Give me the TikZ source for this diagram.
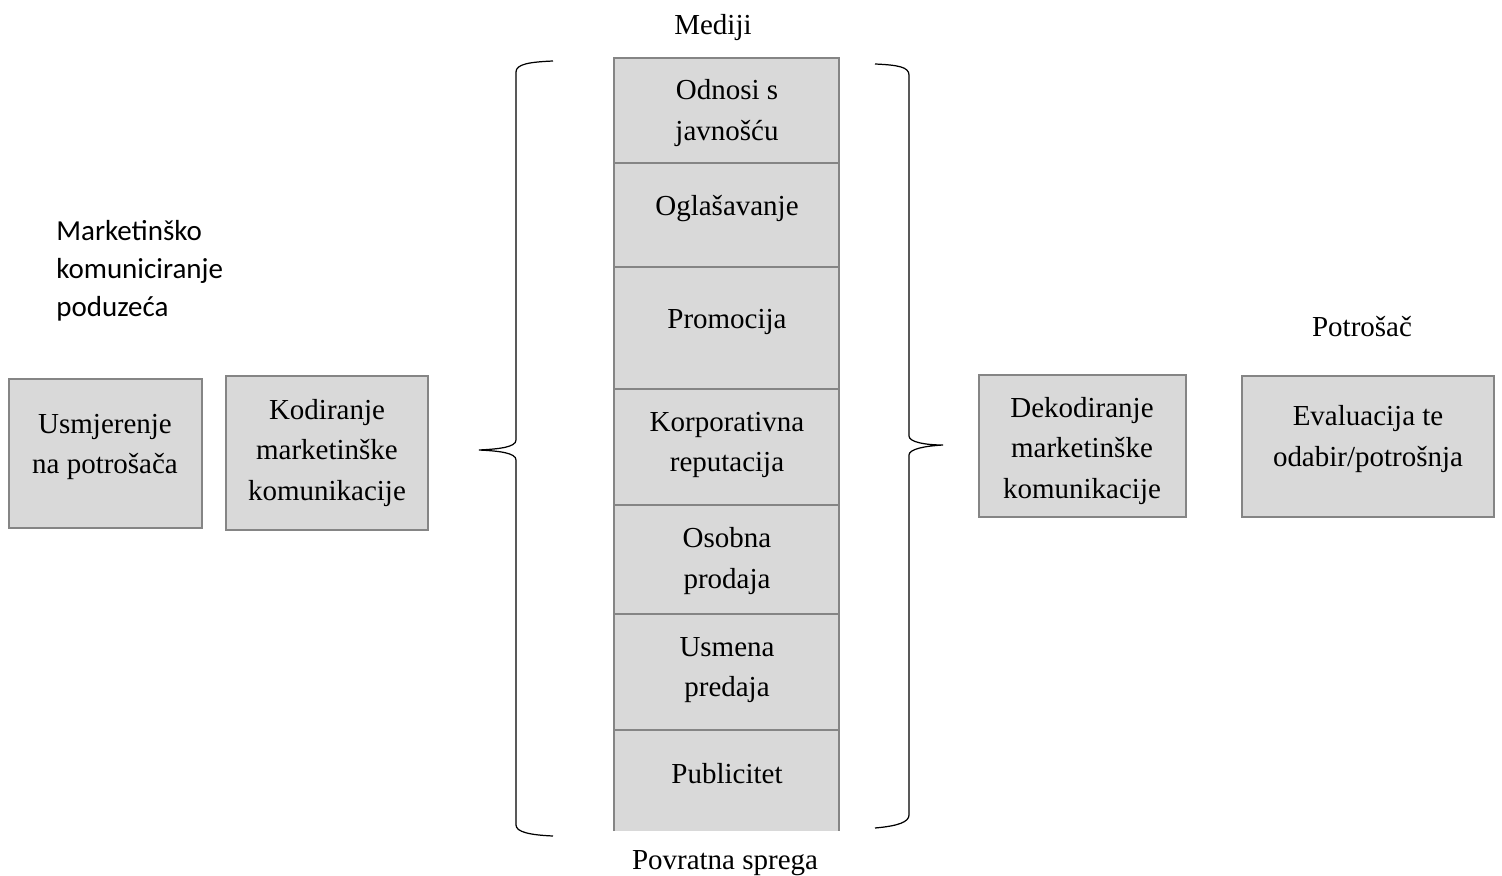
\documentclass[tikz,border=0pt]{standalone}
\usepackage{fontspec}
\setmainfont{Liberation Serif}
\newfontfamily\calfont{Carlito}
\definecolor{boxgray}{HTML}{D9D9D9}
\definecolor{boxline}{HTML}{858585}
\tikzset{
  cell/.style={fill=boxgray, draw=boxline, line width=1.3pt},
  sep/.style={draw=boxline, line width=1.3pt},
  brace/.style={draw=black, line width=0.7pt},
  txt/.style={font=\fontsize{16.5}{23}\selectfont, align=center, inner sep=0pt},
  captxt/.style={font=\calfont\fontsize{16.5}{21.5}\selectfont, align=left, inner sep=0pt}
}
\begin{document}
\begin{tikzpicture}[x=0.02cm, y=-0.02cm]
  \useasboundingbox (0,0) rectangle (1502,876);
  % left side
  \node[captxt, anchor=west] (firma) at (56,271) {Marketinško\\komuniciranje\\poduzeća};
  \filldraw[cell] (9,379) rectangle (202,528);
  \node[txt] (usmjer) at (105,447) {Usmjerenje\\na potrošača};
  \filldraw[cell] (226,376) rectangle (428,530);
  \node[txt] (kodir) at (327,453) {Kodiranje\\marketinške\\komunikacije};
  % left brace
  \draw[brace] (553,61) .. controls (530,62) and (516,64) .. (516,72) -- (516,440)
    .. controls (516,447) and (500,449) .. (479,450)
    .. controls (500,451) and (516,453) .. (516,460) -- (516,825)
    .. controls (516,832) and (530,835) .. (553,836);
  % media stack
  \node[txt] (mediji) at (713,28) {Mediji};
  \fill[boxgray] (614,58) rectangle (839,831);
  \draw[sep] (614,831) -- (614,58) -- (839,58) -- (839,831);
  \draw[sep] (614,163) -- (839,163);
  \draw[sep] (614,267) -- (839,267);
  \draw[sep] (614,389) -- (839,389);
  \draw[sep] (614,505) -- (839,505);
  \draw[sep] (614,614) -- (839,614);
  \draw[sep] (614,730) -- (839,730);
  \node[txt] (odnosi) at (727,113) {Odnosi s\\javnošću};
  \node[txt] (oglas) at (727,209) {Oglašavanje};
  \node[txt] (promo) at (727,322) {Promocija};
  \node[txt] (korp) at (727,445) {Korporativna\\reputacija};
  \node[txt] (osobna) at (727,561) {Osobna\\prodaja};
  \node[txt] (usmena) at (727,670) {Usmena\\predaja};
  \node[txt] (publ) at (727,774) {Publicitet};
  \node[txt] (povrat) at (725,863) {Povratna sprega};
  % right brace
  \draw[brace] (875,64) .. controls (898,65) and (909,67) .. (909,75) -- (909,436)
    .. controls (909,442) and (925,445) .. (943,445)
    .. controls (925,446) and (909,449) .. (909,455) -- (909,815)
    .. controls (909,822) and (898,826) .. (875,828);
  % right side
  \filldraw[cell] (979,375) rectangle (1186,517);
  \node[txt] (dekod) at (1082,451) {Dekodiranje\\marketinške\\komunikacije};
  \node[txt] (potrosac) at (1362,327) {Potrošač};
  \filldraw[cell] (1242,376) rectangle (1494,517);
  \node[txt] (evalu) at (1368,439) {Evaluacija te\\odabir/potrošnja};
\end{tikzpicture}
\end{document}
